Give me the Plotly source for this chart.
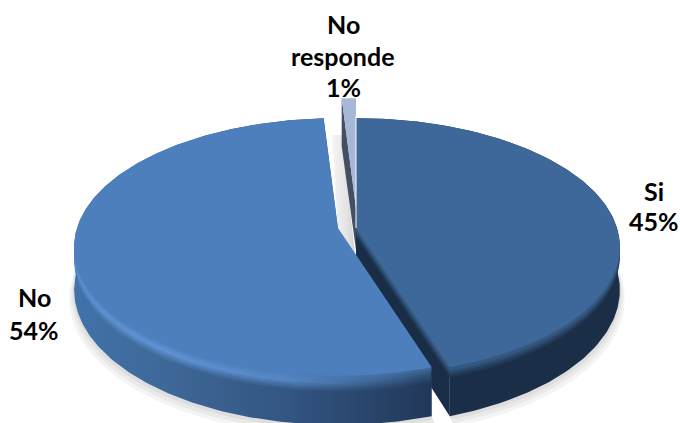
import numpy as np
import plotly.graph_objects as go

categories = ["Si", "No", "No responde"]
values = [45, 54, 1]
label_lines = [["Si", "45%"], ["No", "54%"], ["No", "responde", "1%"]]

# view geometry of the tilted disc, in page pixels
RX, RY, K, H = 261, 126, 0.147, 42
APEX = {"Si": (356, 228), "No": (338, 228), "No responde": (356, 208)}
LABEL_POS = {"Si": (654, [191, 221]), "No": (34, [297, 330]), "No responde": (343, [24, 56, 87])}

total = sum(values)
ends = np.cumsum(values) / total * 2 * np.pi
starts = np.concatenate([[0], ends[:-1]])
span = {c: (s, e) for c, s, e in zip(categories, starts, ends)}


def pt(theta, apex, down=0.0, r=1.0):
    theta = np.asarray(theta, dtype=float)
    t, s = -np.cos(theta), np.sin(theta)
    d = 1 - K * r * t
    return apex[0] + RX * r * s / d, apex[1] + RY * r * t / d + down / d


def slice_poly(name, down=0.0, r=1.0):
    a, b = span[name]
    th = np.linspace(a, b, max(6, int((b - a) * 60)))
    ax, ay = APEX[name]
    x, y = pt(th, APEX[name], down, r)
    return np.r_[ax, x, ax], np.r_[ay + down, y, ay + down]


def outer_wall(name):
    a, b = span[name]
    th = np.linspace(a, b, max(6, int((b - a) * 60)))
    x0, y0 = pt(th, APEX[name])
    x1, y1 = pt(th, APEX[name], H)
    return np.r_[x0, x1[::-1], x0[0]], np.r_[y0, y1[::-1], y0[0]]


def hex_rgb(c):
    return np.array([int(c[i:i + 2], 16) for i in (1, 3, 5)], dtype=float)


def mix(c1, c2, f):
    v = hex_rgb(c1) * (1 - f) + hex_rgb(c2) * f
    return "#%02x%02x%02x" % tuple(int(round(u)) for u in v)


fig = go.Figure()


def poly(x, y, color=None, grad=None, opacity=1.0):
    kw = dict(x=x, y=y, mode="lines", fill="toself", line=dict(width=0),
              hoverinfo="skip", showlegend=False, opacity=opacity)
    if grad:
        kw["fillgradient"] = dict(type="horizontal", colorscale=grad)
    else:
        kw["fillcolor"] = color
    fig.add_trace(go.Scatter(**kw))


# soft floor shadow
for extra, gx in [(9, 5), (6, 3), (3, 1.5)]:
    for name in ["Si", "No"]:
        a, b = span[name]
        th = np.linspace(a, b, 160)
        xs, ys = pt(th, APEX[name], H + extra)
        xs = np.where(xs > APEX[name][0], xs + gx, xs - gx)
        poly(np.r_[APEX[name][0], xs, APEX[name][0]], np.r_[APEX[name][1], ys, APEX[name][1]],
             "rgba(0,0,0,0.045)")

# pale shadow seen through the gap
rx_no, ry_no = pt(span["No"][1], APEX["No"])
rx_nr, ry_nr = pt(span["No responde"][0], APEX["No responde"], H)
poly([rx_no + 8, rx_nr, APEX["No responde"][0], APEX["No"][0]],
     [ry_nr, ry_nr, APEX["No responde"][1] + H + 12, APEX["No"][1]],
     grad=[[0, "#f6f6f6"], [0.6, "#e4e4e4"], [1, "#cfcfcf"]])

# No responde: cut wall and top
a, b = span["No responde"]
x0, y0 = pt(a, APEX["No responde"])
ax, ay = APEX["No responde"]
poly([x0, ax, ax, x0, x0], [y0, ay, ay + H, y0 + H * 1.14, y0], "#454f63")
x, y = slice_poly("No responde")
poly(x, y, "#a6b7d8")

# Si: outer wall, cut wall, bevel, top
x, y = outer_wall("Si")
poly(x, y, "#1a2e48")
a, b = span["Si"]
ax, ay = APEX["Si"]
xe, ye = pt(b, APEX["Si"])
xeb, yeb = pt(b, APEX["Si"], H)
poly([ax, xe, xeb, ax, ax], [ay, ye, yeb, ay + H, ay], "#192d47")
for down, col in [(9, "#1f3654"), (7, "#26415f"), (5, "#2d4c70"), (3, "#345883")]:
    x, y = slice_poly("Si", down)
    poly(x, y, col)
x, y = slice_poly("Si")
poly(x, y, "#3e6899")
xl, yl = pt(0.0, APEX["Si"], -2)
fig.add_trace(go.Scatter(x=[xl, ax], y=[yl, ay], mode="lines", line=dict(color="white", width=1),
                         hoverinfo="skip", showlegend=False))

# No: outer wall, bevel, top
NO_TOP = "#4c7fbb"
stops = [0, 0.25, 0.6, 1]
wall_cols = ["#4172aa", "#3e6898", "#335582", "#213859"]
x, y = outer_wall("No")
poly(x, y, grad=[[s, c] for s, c in zip(stops, wall_cols)])
glow_cols = ["#5c90d0", "#6295d6", "#5588c4", "#2f5075"]
for down, f_wall, f_top in [(13, 0.8, 0), (11, 0.55, 0), (9, 0.3, 0), (7, 0.05, 0), (5, 0, 0.3), (3, 0, 0.6), (1.5, 0, 0.85)]:
    cs = []
    for s, w, g in zip(stops, wall_cols, glow_cols):
        c = mix(g, w, f_wall)
        top_here = NO_TOP if s < 1 else "#3f6a9e"
        cs.append([s, mix(c, top_here, f_top)])
    x, y = slice_poly("No", down)
    poly(x, y, grad=cs)
x, y = slice_poly("No")
poly(x, y, NO_TOP)

for c, lines in zip(categories, label_lines):
    px, ys = LABEL_POS[c]
    for txt, py in zip(lines, ys):
        fig.add_annotation(x=px, y=py, text=txt, showarrow=False, xanchor="center", yanchor="middle",
                           font=dict(family="Lato", size=25, color="#000000", weight="bold"))

fig.update_layout(
    width=680, height=423, margin=dict(l=0, r=0, t=0, b=0),
    paper_bgcolor="white", plot_bgcolor="white", showlegend=False,
    xaxis=dict(range=[0, 680], visible=False, fixedrange=True),
    yaxis=dict(range=[423, 0], visible=False, fixedrange=True),
)
fig.write_html("out.html", config={"displayModeBar": False},
               post_script="document.body.style.margin='0';document.body.style.overflow='hidden';")
